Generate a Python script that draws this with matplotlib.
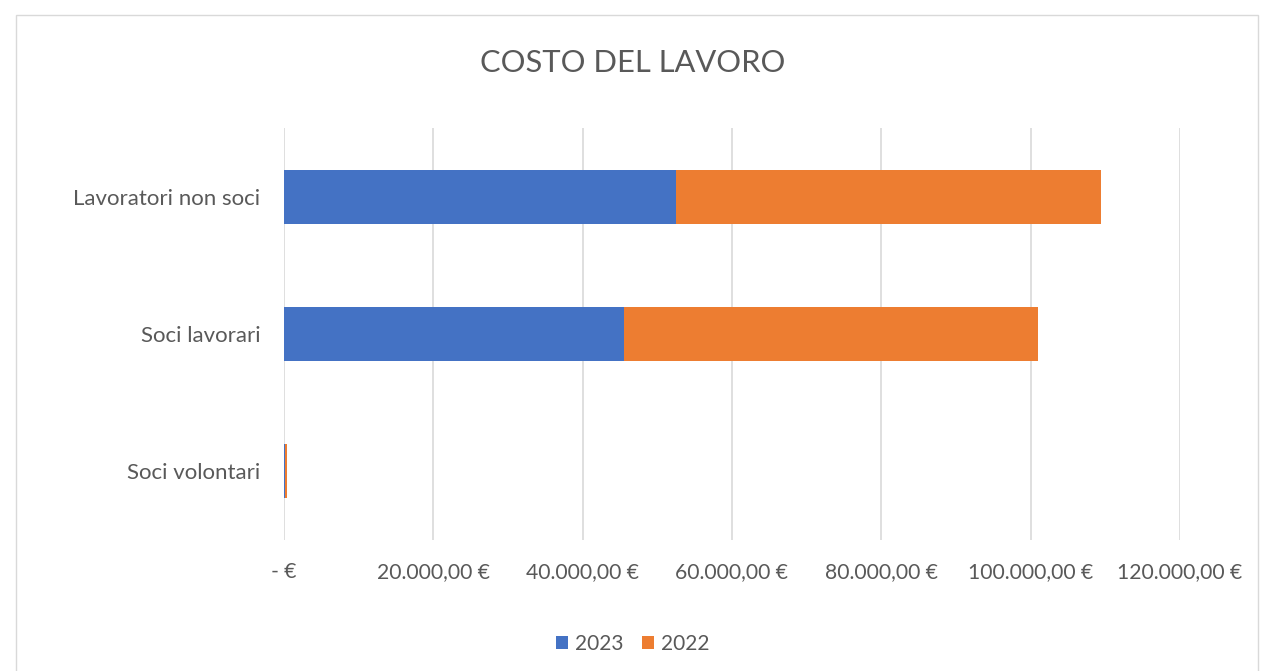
import matplotlib
matplotlib.use('Agg')
import numpy as np
import matplotlib.pyplot as plt
from matplotlib.ticker import FuncFormatter
from matplotlib.patches import Rectangle

# data
categorie = ['Soci volontari', 'Soci lavorari', 'Lavoratori non soci']
val_2023 = [150, 45500, 52500]
val_2022 = [300, 55500, 56900]
serie = ['2023', '2022']
colori = ['#4472C4', '#ED7D31']

plt.rcParams['font.family'] = ['Lato', 'DejaVu Sans']

fig = plt.figure(figsize=(12.66, 6.71), dpi=100)
ax = fig.add_axes([0.2243, 0.1952, 0.7077, 0.614])

y = np.arange(len(categorie))
h = 0.394
ax.barh(y, val_2023, height=h, color=colori[0], label=serie[0], zorder=3)
ax.barh(y, val_2022, height=h, left=val_2023, color=colori[1], label=serie[1], zorder=3)

ax.set_xlim(0, 120000)
ax.set_ylim(-0.5, 2.5)
ax.set_xticks(np.arange(0, 120001, 20000))
ax.set_yticks(y)
ax.set_yticklabels(categorie)

def euro(v, pos):
    if v == 0:
        return '- €'
    s = f"{v:,.2f}".replace(',', 'X').replace('.', ',').replace('X', '.')
    return s + ' €'

ax.xaxis.set_major_formatter(FuncFormatter(euro))
ax.grid(axis='x', color='#d9d9d9', linewidth=1.2, zorder=0)
for s in ax.spines.values():
    s.set_visible(False)
ax.tick_params(axis='x', length=0, labelsize=15.2, colors='#595959', pad=16)
ax.tick_params(axis='y', length=0, labelsize=16, colors='#595959', pad=17)

fig.text(0.5, 0.906, 'COSTO DEL LAVORO', ha='center', va='center',
         fontsize=22.2, color='#595959')

fig.legend(loc='center', bbox_to_anchor=(0.5, 0.04), ncol=2, frameon=False,
           fontsize=15, handlelength=0.58, handleheight=0.58, handletextpad=0.33,
           columnspacing=0.9, labelcolor='#595959')

fig.patches.append(Rectangle((16 / 1266, -0.01), 1242 / 1266, 1 - 15 / 671 + 0.01,
                             transform=fig.transFigure, fill=False,
                             edgecolor='#d9d9d9', linewidth=1))

fig.savefig('out.png', dpi=100)
